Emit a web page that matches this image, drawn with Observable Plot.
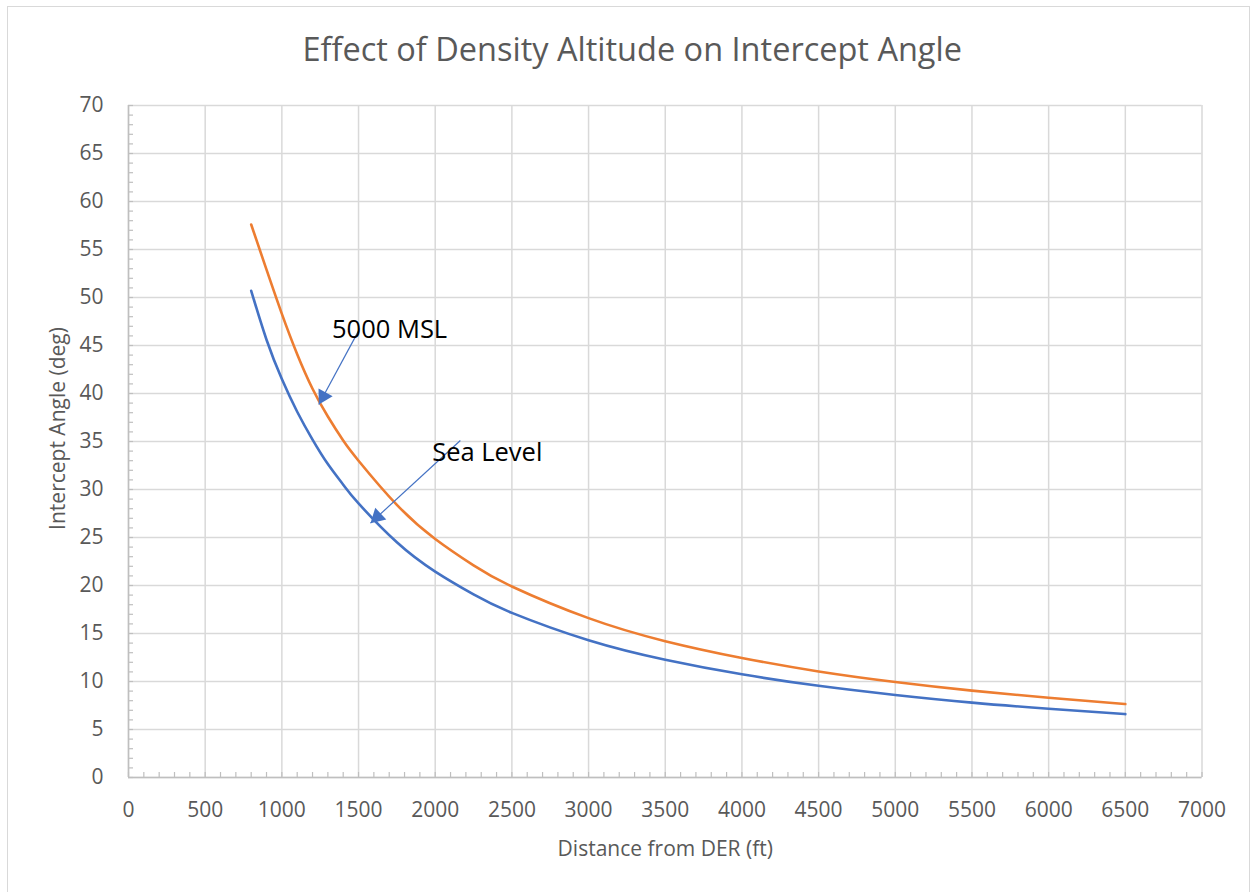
<!DOCTYPE html>
<html><head><meta charset="utf-8">
<script src="https://cdn.jsdelivr.net/npm/d3@7"></script>
<script src="https://cdn.jsdelivr.net/npm/@observablehq/plot@0.6"></script>
<style>
html,body{margin:0;padding:0;background:#fff;overflow:hidden;width:1253px;height:892px;}
#frame{position:absolute;left:7px;top:6px;width:1243px;height:910px;border:1.5px solid #d9d9d9;box-sizing:border-box;}
#chart{position:absolute;left:0;top:0;}
</style></head><body>
<div id="frame"></div><div id="chart"></div>
<script>
// ---- data ----
const distances = [800, 900, 1000, 1100, 1200, 1300, 1400, 1500, 1750, 2000, 2250, 2500, 3000, 3500, 4000, 4500, 5000, 5500, 6000, 6500];
const seaLevel  = [50.7, 45.6, 41.5, 38.1, 35.2, 32.65, 30.5, 28.55, 24.5, 21.45, 19.07, 17.15, 14.3, 12.27, 10.75, 9.55, 8.6, 7.8, 7.16, 6.6];
const msl5000   = [57.6, 52.9, 48.3, 44.1, 40.5, 37.6, 35.1, 33.0, 28.4, 24.85, 22.1, 19.9, 16.6, 14.2, 12.45, 11.05, 9.95, 9.05, 8.3, 7.65];
const seriesNames = ["Sea Level", "5000 MSL"];
const seriesColors = ["#4472C4", "#ED7D31"];
const xTicks = [0, 500, 1000, 1500, 2000, 2500, 3000, 3500, 4000, 4500, 5000, 5500, 6000, 6500, 7000];
const yTicks = [0, 5, 10, 15, 20, 25, 30, 35, 40, 45, 50, 55, 60, 65, 70];
const xMinor = d3.range(0, 7001, 100);
const yMinor = d3.range(0, 71, 1);
const titleText = "Effect of Density Altitude on Intercept Angle";
const xLabel = "Distance from DER (ft)";
const yLabel = "Intercept Angle (deg)";
const annotations = [
  {label: "5000 MSL",  textX: 1327, textY: 46.6,  fromX: 1501, fromY: 46.55, toX: 1241, toY: 38.85},
  {label: "Sea Level", textX: 1980, textY: 33.85, fromX: 2164, fromY: 35.1,  toX: 1578, toY: 26.5}
];

const rows = distances.flatMap((d, i) => [
  {d, a: seaLevel[i], s: seriesNames[0]},
  {d, a: msl5000[i], s: seriesNames[1]}
]);

const W = 1253, H = 892;
const mL = 128, mR = 51.5, mT = 105, mB = 115;
const plotW = W - mL - mR, plotH = H - mT - mB;
const grid = {stroke: "#d9d9d9", strokeOpacity: 1, strokeWidth: 1.5};
const axisStroke = "#bfbfbf";
const arrowBlue = "#4472C4";

const chart = Plot.plot({
  width: W, height: H,
  marginLeft: mL, marginRight: mR, marginTop: mT, marginBottom: mB,
  style: {fontFamily: "'Open Sans', sans-serif", fontSize: "21px", color: "#595959", background: "transparent"},
  x: {domain: [0, 7000]},
  y: {domain: [0, 70]},
  color: {domain: seriesNames, range: seriesColors},
  marks: [
    Plot.gridX(xTicks, grid),
    Plot.gridY(yTicks, grid),
    Plot.ruleX(xMinor, {insetTop: plotH - 5, stroke: axisStroke, strokeWidth: 1.2}),
    Plot.ruleY(yMinor, {insetRight: plotW - 5, stroke: axisStroke, strokeWidth: 1.2}),
    Plot.ruleY([0], {stroke: axisStroke, strokeWidth: 1.5}),
    Plot.ruleX([0], {stroke: axisStroke, strokeWidth: 1.5}),
    Plot.axisX(xTicks, {tickSize: 0, tickPadding: 25, label: null, tickFormat: d => String(d)}),
    Plot.axisY(yTicks, {tickSize: 0, tickPadding: 25, label: null, tickFormat: d => String(d)}),
    Plot.line(rows, {x: "d", y: "a", z: "s", stroke: "s", strokeWidth: 2.6, curve: "natural"}),
    Plot.link(annotations, {x1: "fromX", y1: "fromY", x2: "toX", y2: "toY", stroke: arrowBlue, strokeWidth: 1.2}),
    Plot.dot([annotations[0]], {x: "toX", y: "toY", symbol: "triangle", r: 6, fill: arrowBlue, stroke: null, rotate: 209, dx: 4.5, dy: -8.15}),
    Plot.dot([annotations[1]], {x: "toX", y: "toY", symbol: "triangle", r: 6, fill: arrowBlue, stroke: null, rotate: 227, dx: 6.85, dy: -6.3}),
    Plot.text(annotations, {x: "textX", y: "textY", text: "label", textAnchor: "start", lineAnchor: "middle", fontSize: 25.5, fill: "#000"}),
    Plot.text([titleText], {frameAnchor: "top", dx: -33, dy: -55, textAnchor: "middle", lineAnchor: "middle", fontSize: 32.5, fill: "#595959"}),
    Plot.text([xLabel], {frameAnchor: "bottom", dy: 72, textAnchor: "middle", lineAnchor: "middle", fontSize: 21, fill: "#595959"}),
    Plot.text([yLabel], {frameAnchor: "left", dx: -70, dy: -13, rotate: -90, textAnchor: "middle", lineAnchor: "middle", fontSize: 21, fill: "#595959"})
  ]
});
document.getElementById("chart").appendChild(chart);
</script>
</body></html>
